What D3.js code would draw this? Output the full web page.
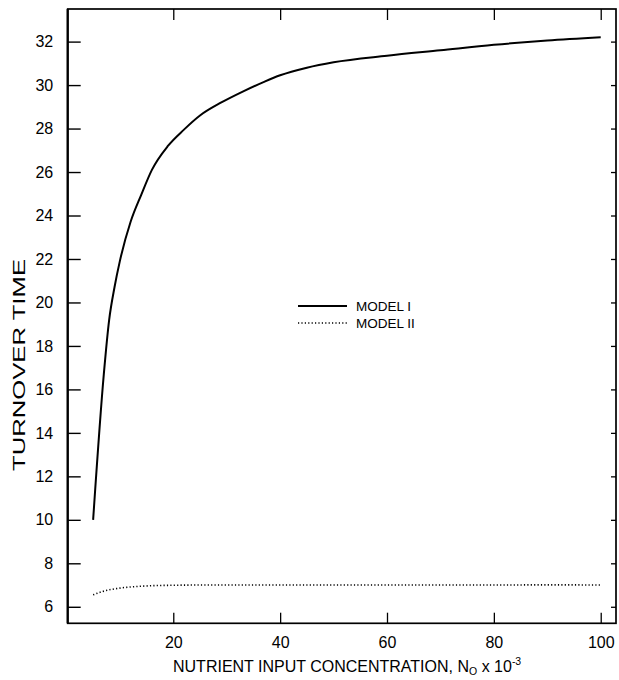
<!DOCTYPE html>
<html>
<head>
<meta charset="utf-8">
<script src="https://cdn.jsdelivr.net/npm/d3@7"></script>
<style>
  html, body { margin: 0; padding: 0; background: #fff; }
  svg { display: block; }
  text { font-family: "Liberation Sans", Arial, Helvetica, sans-serif; fill: #000; }
</style>
</head>
<body>
<svg id="chart" width="619" height="680"></svg>
<script>
// ---- data ----
const xModel1 = [5, 7, 8, 9, 10, 12, 14, 16, 19, 22, 25, 29, 33, 37, 40, 45, 50, 60, 70, 80, 90, 100];
const yModel1 = [10.0, 16.7, 19.2, 20.7, 21.9, 23.7, 24.95, 26.1, 27.2, 27.95, 28.6, 29.2, 29.7, 30.15, 30.45, 30.8, 31.05, 31.35, 31.6, 31.85, 32.05, 32.2];
const xModel2 = [5, 7, 10, 13, 16, 20, 25, 30, 40, 50, 60, 70, 80, 90, 100];
const yModel2 = [6.55, 6.72, 6.86, 6.93, 6.97, 6.99, 7.0, 7.0, 7.0, 7.0, 7.0, 7.0, 7.0, 7.01, 7.0];
const xTicks = [20, 40, 60, 80, 100];
const yTicks = [6, 8, 10, 12, 14, 16, 18, 20, 22, 24, 26, 28, 30, 32];
const seriesNames = ["MODEL I", "MODEL II"];

// ---- layout ----
const L = 67.7, R = 616, T = 9, B = 623.3;
const svg = d3.select("#chart");

const x = d3.scaleLinear().domain([0.24, 102.86]).range([L, R]);
const y = d3.scaleLinear().domain([5.24, 33.5]).range([B, T]);

// frame
svg.append("rect")
  .attr("x", L).attr("y", T).attr("width", R - L).attr("height", B - T)
  .attr("fill", "none").attr("stroke", "#000").attr("stroke-width", 1.7);
svg.append("line")
  .attr("x1", L).attr("x2", L).attr("y1", T).attr("y2", B)
  .attr("stroke", "#000").attr("stroke-width", 2.2);

// left axis (ticks inward)
const leftAxis = d3.axisLeft(y).tickValues(yTicks).tickSize(-13).tickPadding(14.5).tickFormat(d3.format("d"));
const gl = svg.append("g").attr("transform", `translate(${L},0)`).call(leftAxis);
gl.select(".domain").remove();
gl.selectAll(".tick line").attr("stroke", "#000").attr("stroke-width", 1.4);
gl.selectAll(".tick text").attr("font-size", 16).attr("font-family", "Liberation Sans, Arial, sans-serif").attr("fill", "#000");

// right axis (ticks inward, short)
const rightAxis = d3.axisRight(y).tickValues(yTicks).tickSize(-5).tickFormat("");
const gr = svg.append("g").attr("transform", `translate(${R},0)`).call(rightAxis);
gr.select(".domain").remove();
gr.selectAll(".tick line").attr("stroke", "#000").attr("stroke-width", 1.3);

// bottom axis (ticks inward)
const bottomAxis = d3.axisBottom(x).tickValues(xTicks).tickSize(-10.6).tickPadding(13.5).tickFormat(d3.format("d"));
const gb = svg.append("g").attr("transform", `translate(0,${B})`).call(bottomAxis);
gb.select(".domain").remove();
gb.selectAll(".tick line").attr("stroke", "#000").attr("stroke-width", 1.3);
gb.selectAll(".tick text").attr("font-size", 16).attr("font-family", "Liberation Sans, Arial, sans-serif").attr("fill", "#000");

// top axis (ticks inward)
const topAxis = d3.axisTop(x).tickValues(xTicks).tickSize(-11).tickFormat("");
const gt = svg.append("g").attr("transform", `translate(0,${T})`).call(topAxis);
gt.select(".domain").remove();
gt.selectAll(".tick line").attr("stroke", "#000").attr("stroke-width", 1.3);

// lines
const m1 = xModel1.map((d, i) => [d, yModel1[i]]);
const m2 = xModel2.map((d, i) => [d, yModel2[i]]);
const line = d3.line().x(d => x(d[0])).y(d => y(d[1])).curve(d3.curveMonotoneX);

svg.append("path").datum(m1).attr("d", line)
  .attr("fill", "none").attr("stroke", "#000").attr("stroke-width", 2);
svg.append("path").datum(m2).attr("d", line)
  .attr("fill", "none").attr("stroke", "#000").attr("stroke-width", 1.6)
  .attr("stroke-dasharray", "1.2,2.2");

// legend
const legend = svg.append("g");
const legY = [306, 323];
seriesNames.forEach((name, i) => {
  legend.append("line")
    .attr("x1", 298).attr("x2", 347).attr("y1", legY[i]).attr("y2", legY[i])
    .attr("stroke", "#000")
    .attr("stroke-width", i === 0 ? 1.8 : 1.5)
    .attr("stroke-dasharray", i === 0 ? null : "1.2,2.2");
  legend.append("text")
    .attr("x", 356).attr("y", legY[i] + 5)
    .attr("font-size", 13.5)
    .text(name);
});

// x title
const xt = svg.append("text").attr("x", 173).attr("y", 671.5).attr("font-size", 16);
xt.append("tspan").text("NUTRIENT INPUT CONCENTRATION, N");
xt.append("tspan").attr("font-size", 10.5).attr("dy", 3).text("O");
xt.append("tspan").attr("dy", -3).text(" x 10");
xt.append("tspan").attr("font-size", 10.5).attr("dy", -6.5).text("-3");

// y title
svg.append("text")
  .attr("transform", "translate(25,365) rotate(-90)")
  .attr("text-anchor", "middle")
  .attr("font-size", 16)
  .attr("textLength", 212)
  .attr("lengthAdjust", "spacingAndGlyphs")
  .text("TURNOVER TIME");
</script>
</body>
</html>
